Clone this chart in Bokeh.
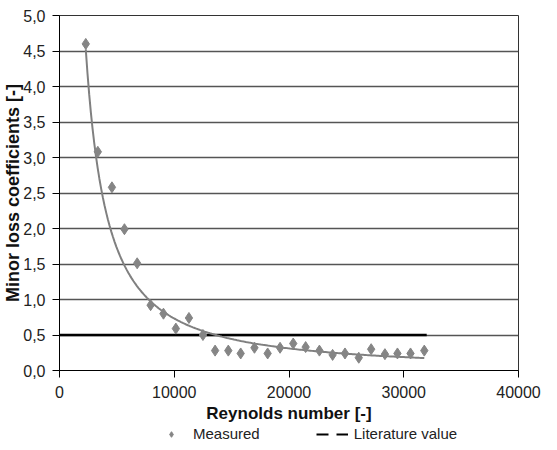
import numpy as np
from bokeh.plotting import figure
from bokeh.layouts import column
from bokeh.models import FixedTicker, CustomJSTickFormatter, Legend, LegendItem, Range1d
from bokeh.embed import file_html
from bokeh.resources import INLINE

# ---- data ----
reynolds = [2290, 3340, 4570, 5660, 6770, 7940, 9060, 10140, 11280, 12500,
            13560, 14710, 15790, 16990, 18140, 19220, 20370, 21450, 22650,
            23800, 24880, 26080, 27160, 28360, 29450, 30590, 31790]
measured = [4.60, 3.08, 2.58, 1.99, 1.51, 0.92, 0.80, 0.59, 0.74, 0.50,
            0.28, 0.28, 0.24, 0.32, 0.24, 0.32, 0.38, 0.33, 0.28,
            0.22, 0.24, 0.18, 0.30, 0.23, 0.24, 0.24, 0.28]
literature_re = [0, 32000]
literature_k = [0.5, 0.5]
x_ticks = [0, 10000, 20000, 30000, 40000]
y_ticks = [0.0, 0.5, 1.0, 1.5, 2.0, 2.5, 3.0, 3.5, 4.0, 4.5, 5.0]

# power-law trend line fitted to the measured points (as in the original spreadsheet)
b, log_a = np.polyfit(np.log(reynolds), np.log(measured), 1)
trend_re = np.linspace(min(reynolds), max(reynolds), 200)
trend_k = np.exp(log_a) * trend_re ** b

FONT = "Liberation Sans"
MARKER_COLOR = "#858585"

p = figure(width=541, height=425, output_backend="svg", toolbar_location=None,
           x_range=Range1d(0, 40000), y_range=Range1d(0, 5),
           min_border_left=57, min_border_right=23, min_border_top=15, min_border_bottom=54)
p.background_fill_color = "white"
p.border_fill_color = "white"
p.outline_line_color = "#333333"
p.outline_line_width = 1

p.xgrid.grid_line_color = None
p.ygrid.grid_line_color = "#555555"
p.ygrid.grid_line_width = 1.3
p.ygrid.ticker = FixedTicker(ticks=y_ticks)

# axes
p.xaxis.ticker = FixedTicker(ticks=x_ticks)
p.yaxis.ticker = FixedTicker(ticks=y_ticks)
p.yaxis.formatter = CustomJSTickFormatter(code="return tick.toFixed(1).replace('.', ',');")
for ax in (p.xaxis, p.yaxis):
    ax.axis_line_color = "black"
    ax.axis_line_width = 1
    ax.major_tick_line_color = "black"
    ax.major_tick_out = 7
    ax.major_tick_in = 0
    ax.minor_tick_line_color = None
    ax.major_label_text_font = FONT
    ax.major_label_text_font_size = "16px"
    ax.major_label_text_color = "#222222"
    ax.axis_label_text_font = FONT
    ax.axis_label_text_font_style = "bold"
    ax.axis_label_text_color = "#111111"

p.xaxis.axis_label = "Reynolds number [-]"
p.xaxis.axis_label_text_font_size = "17px"
p.xaxis.major_label_standoff = 8
p.xaxis.axis_label_standoff = 3

p.yaxis.axis_label = "Minor loss coefficients [-]"
p.yaxis.axis_label_text_font_size = "18px"
p.yaxis.major_label_standoff = 7
p.yaxis.axis_label_standoff = -3

# glyphs
p.line(literature_re, literature_k, line_color="black", line_width=2.5)
p.line(trend_re, trend_k, line_color="#808080", line_width=2)
p.scatter(reynolds, measured, marker="diamond", size=11,
          fill_color=MARKER_COLOR, line_color=MARKER_COLOR)

# ---- legend strip below the chart ----
lf = figure(width=541, height=19, output_backend="svg", toolbar_location=None,
            x_axis_location=None, y_axis_location=None,
            x_range=Range1d(-2, -1), y_range=Range1d(-2, -1), min_border=0)
lf.grid.visible = False
lf.outline_line_color = None
lf.background_fill_color = "white"
lf.border_fill_color = "white"
sc_l = lf.scatter(reynolds, measured, marker="diamond", size=10,
                  fill_color=MARKER_COLOR, line_color=MARKER_COLOR)
lit_l = lf.line(literature_re, literature_k, line_color="black", line_width=2, line_dash="12 8")

legend = Legend(items=[LegendItem(label="Measured", renderers=[sc_l]),
                       LegendItem(label="Literature value", renderers=[lit_l])],
                orientation="horizontal", location=(96, 2),
                padding=0, margin=0, spacing=56, glyph_width=32, glyph_height=14,
                label_height=16, label_standoff=6, border_line_color=None,
                background_fill_alpha=0,
                label_text_font=FONT, label_text_font_size="15px",
                label_text_color="#222222")
lf.add_layout(legend)

layout = column(p, lf, spacing=0)
open("out.html", "w").write(file_html(layout, INLINE))
